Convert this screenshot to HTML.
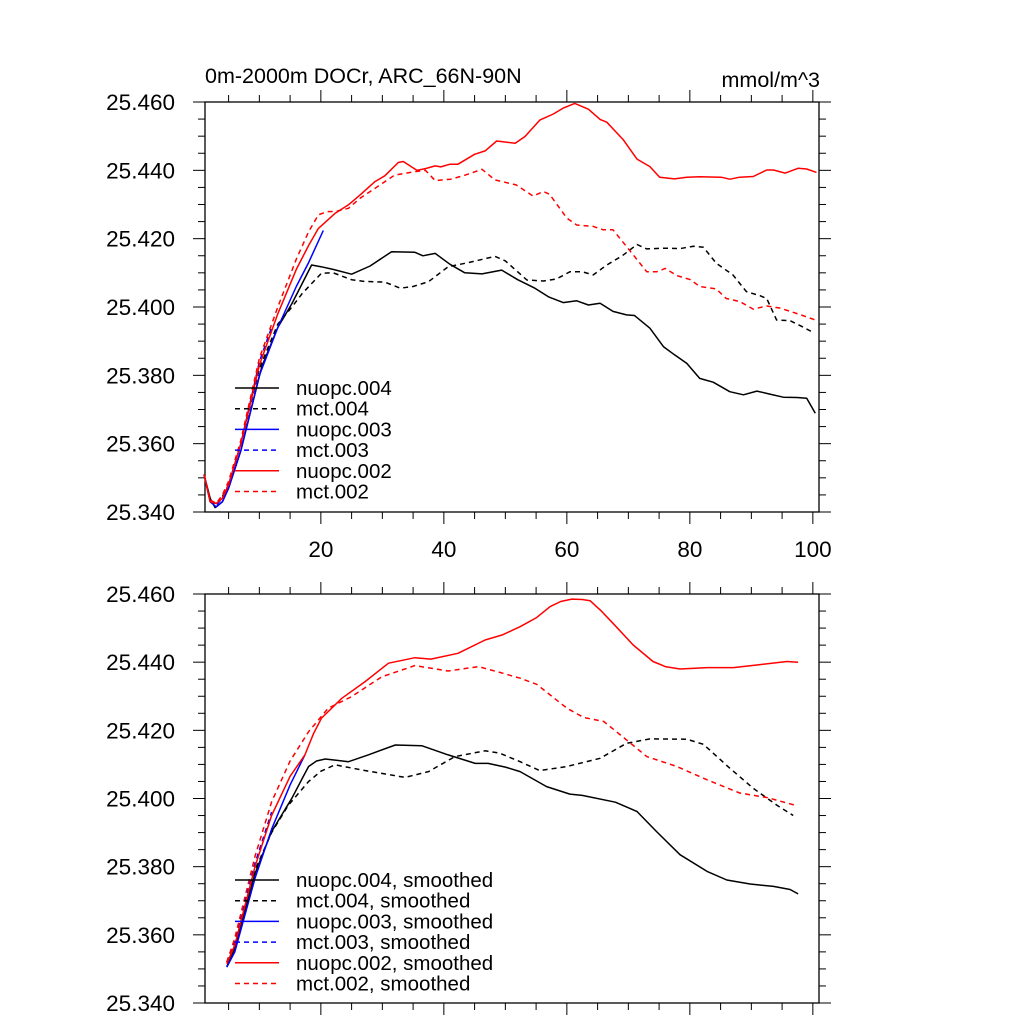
<!DOCTYPE html>
<html><head><meta charset="utf-8"><style>
html,body{margin:0;padding:0;background:#fff;}
svg{display:block;font-family:"Liberation Sans",Arial,sans-serif;}
</style></head><body>
<svg id="chart" width="1024" height="1024" viewBox="0 0 1024 1024" xmlns="http://www.w3.org/2000/svg">
<text x="205" y="83" font-size="21.5">0m-2000m DOCr, ARC_66N-90N</text>
<text x="820" y="87" font-size="21.5" text-anchor="end">mmol/m^3</text>
</svg>
<script>
const yTicks=[25.34,25.36,25.38,25.40,25.42,25.44,25.46];
const xTicks=[20,40,60,80,100];
const legendTop=["nuopc.004","mct.004","nuopc.003","mct.003","nuopc.002","mct.002"];
const legendBot=["nuopc.004, smoothed","mct.004, smoothed","nuopc.003, smoothed","mct.003, smoothed","nuopc.002, smoothed","mct.002, smoothed"];
// top panel raw
const n004x=[1,2,2.8,4,5,7,10.4,13,15.3,17,18.5,20,22,25,28,31.5,35.3,36.6,38.6,41,43.4,46.2,49.4,52,54.8,57,59.4,61.6,63.5,65.4,67.5,69.7,71,73.5,75.7,77.5,79.5,81.6,83.8,86.5,88.7,90.9,93,95.2,97.4,99,100.4];
const n004y=[25.351,25.344,25.3413,25.343,25.347,25.358,25.3826,25.394,25.401,25.407,25.4123,25.4118,25.411,25.4096,25.412,25.4162,25.416,25.415,25.4157,25.4125,25.410,25.4097,25.4108,25.408,25.4055,25.403,25.4013,25.4018,25.4006,25.4011,25.3987,25.3977,25.3975,25.3938,25.3884,25.386,25.3835,25.3791,25.378,25.3752,25.3743,25.3754,25.3745,25.3736,25.3735,25.3733,25.3689];
const m004x=[1,2,3,4,5,7,10,13,15.3,17,20.1,22,25,27,30.4,32.9,35,37.5,40.7,44,48.3,50,53.5,56.2,58.3,60.5,62.5,64.3,66.5,69,71.4,73,75.7,78.4,80.6,82.2,84.3,87,89.2,91.4,92.5,94.1,96.3,98,100.1];
const m004y=[25.351,25.3435,25.342,25.3445,25.348,25.360,25.382,25.395,25.400,25.404,25.4099,25.410,25.408,25.4075,25.4073,25.4055,25.406,25.4074,25.4118,25.413,25.4148,25.4135,25.4079,25.4076,25.4082,25.4103,25.4103,25.4094,25.4123,25.415,25.4183,25.417,25.4172,25.4171,25.4178,25.4175,25.4128,25.4094,25.4045,25.4033,25.4025,25.3962,25.396,25.3945,25.3925];
const n003x=[1,2,3,4,5,7,10,13,16,18,20.4];
const n003y=[25.351,25.343,25.3415,25.343,25.347,25.358,25.380,25.394,25.406,25.413,25.4224];
const m003x=[1,2,3,4,5,7,10,12];
const m003y=[25.351,25.343,25.342,25.344,25.348,25.360,25.384,25.394];
const n002x=[1,2,3,4,5,7,10,13,16,18,19.6,22.3,24.5,26.5,28.8,30.4,32.6,33.4,35.6,37,38.6,39.5,41,42.3,45,46.7,48.6,51.6,53.2,55.6,57.8,59.4,61.3,63.5,65.4,66.5,69.2,71.4,73.5,75.1,77.5,79.5,81.6,85.1,86.5,88.1,90.3,92.5,93.6,95.5,97.6,99,100.6];
const n002y=[25.351,25.343,25.3425,25.344,25.348,25.360,25.383,25.398,25.411,25.418,25.423,25.4274,25.4299,25.433,25.4367,25.4384,25.4423,25.4426,25.440,25.4405,25.4413,25.441,25.4418,25.4418,25.4447,25.4457,25.4486,25.4479,25.4499,25.4547,25.4565,25.4582,25.4596,25.4579,25.4549,25.4541,25.4489,25.4433,25.4411,25.438,25.4375,25.438,25.4381,25.438,25.4374,25.438,25.4382,25.4401,25.4401,25.4392,25.4406,25.4404,25.4394];
const m002x=[1,2,3,4,5,7,10,13,16,18,19.6,21,22.5,24.5,26.5,28.8,32,35.3,37,38.6,41.1,43.3,46.2,48.3,51.8,54.5,56.2,57.2,60,61.6,64.3,65.9,67.5,69.7,73,74.6,76,77.9,80.1,81.6,84.3,85.9,88.1,90.3,92.5,94.6,97.9,100.4];
const m002y=[25.351,25.3435,25.3425,25.345,25.349,25.361,25.385,25.400,25.414,25.422,25.427,25.4279,25.428,25.4289,25.432,25.4347,25.4386,25.4396,25.440,25.437,25.4374,25.4385,25.4403,25.4372,25.4357,25.4325,25.4338,25.433,25.426,25.424,25.4236,25.4226,25.4226,25.4177,25.4103,25.4103,25.4113,25.4092,25.408,25.406,25.4053,25.4025,25.4016,25.3994,25.4003,25.3997,25.3978,25.3962];
// bottom panel smoothed
const sn004x=[4.7,6,9.3,12,15.3,17,18,19.3,20.7,22.5,24.5,27.7,32.1,36.4,40.7,45.1,47.2,50,52.4,56.7,60.5,62.5,67.9,71.4,74.6,78.4,82.8,86,89.8,93.6,96.3,97.6];
const sn004y=[25.3507,25.356,25.378,25.3903,25.4001,25.406,25.4094,25.411,25.4116,25.4112,25.4108,25.4128,25.4157,25.4155,25.4128,25.4103,25.4103,25.4092,25.4079,25.4035,25.4013,25.4009,25.3989,25.3962,25.3903,25.3835,25.3786,25.3761,25.3749,25.3742,25.3733,25.372];
const sm004x=[4.7,6,9.3,12,14.7,18,20,22.3,26.6,33.7,37.5,41.8,46.7,49.1,52.4,55.6,60,65.4,69.7,73.5,79.5,82.2,86.5,90.3,94.1,96.8];
const sm004y=[25.352,25.358,25.379,25.390,25.398,25.405,25.408,25.4099,25.4084,25.4062,25.4079,25.4123,25.414,25.4133,25.4108,25.4082,25.4094,25.4118,25.4162,25.4175,25.4174,25.4159,25.4089,25.403,25.3981,25.395];
const sn003x=[4.7,6,9.3,12,15,17.4];
const sn003y=[25.3505,25.355,25.3766,25.391,25.404,25.4128];
const sm003x=[4.7,6,9.3,12];
const sm003y=[25.352,25.358,25.381,25.396];
const sn002x=[4.7,6,9.3,12,15,17.4,18.8,20.1,23.4,27.2,31,35.3,37.9,42.3,46.7,49.5,52.4,55,57.3,59,60.8,62.5,63.8,65.5,67.5,70.8,74,76,78.4,82.8,87.1,91.4,95.8,97.6];
const sn002y=[25.3515,25.357,25.380,25.395,25.4065,25.4128,25.419,25.4236,25.4294,25.4343,25.4397,25.4413,25.4409,25.4426,25.4465,25.448,25.4504,25.453,25.4563,25.4578,25.4585,25.4584,25.458,25.4552,25.4514,25.445,25.4402,25.4387,25.438,25.4384,25.4384,25.4393,25.4402,25.440];
const sm002x=[4.7,6,9.3,12,15,18,21.2,25,29.9,35.3,40.7,45.6,49.1,52.4,55.1,60,62.7,66,69.7,73,77.9,82.8,88.1,92.5,97.4];
const sm002y=[25.352,25.359,25.383,25.399,25.411,25.4196,25.4265,25.4299,25.4357,25.439,25.4374,25.4387,25.437,25.4353,25.4335,25.4265,25.4238,25.4226,25.4172,25.4123,25.4094,25.4055,25.4016,25.4003,25.3979];

const NS="http://www.w3.org/2000/svg";
const svg=document.getElementById('chart');
const X0=205,X1=819;
function xs(v){return 204+(v-1)*6.15;}
function mk(tag,attrs){const e=document.createElementNS(NS,tag);for(const k in attrs)e.setAttribute(k,attrs[k]);svg.appendChild(e);return e;}
function panel(top,bot,showX,series,legend,legY){
  const ys=v=>top+(25.46-v)/0.12*(bot-top);
  const fr=mk('rect',{x:X0,y:top,width:X1-X0,height:bot-top,fill:'none',stroke:'#000','stroke-width':1.3});
  
  
  for(let v=25.34;v<=25.4601;v+=0.005){
    const y=ys(v);const major=Math.abs(Math.round(v*1000)%20)<0.5;const L=major?12:7;
    const t1=mk('line',{x1:X0-L,x2:X0,y1:y,y2:y,stroke:'#000','stroke-width':1});
    
    
    const t2=mk('line',{x1:X1,x2:X1+L,y1:y,y2:y,stroke:'#000','stroke-width':1});
    
    
  }
  yTicks.forEach(v=>{
    const t=mk('text',{x:175,y:ys(v)+8,'font-size':22.5,'text-anchor':'end'});t.textContent=v.toFixed(3);
    
    
  });
  for(let v=5;v<=100;v+=5){
    const x=xs(v);const major=v%20===0;const L=major?12:7;
    const a=mk('line',{x1:x,x2:x,y1:bot,y2:bot+L,stroke:'#000','stroke-width':1});
    
    
    const b=mk('line',{x1:x,x2:x,y1:top-L,y2:top,stroke:'#000','stroke-width':1});
    
    
  }
  if(showX)xTicks.forEach(v=>{
    const t=mk('text',{x:xs(v),y:bot+45,'font-size':22.5,'text-anchor':'middle'});t.textContent=v;
    
    
  });
  series.forEach(s=>{
    const d=s.x.map((v,i)=>(i?'L':'M')+xs(v).toFixed(1)+' '+ys(s.y[i]).toFixed(1)).join(' ');
    const p=mk('path',{d:d,fill:'none',stroke:s.c,'stroke-width':1.5,'stroke-dasharray':s.dash?'5 4':'none','stroke-linejoin':'round'});
    
    
  });
  legend.forEach((lab,i)=>{
    const y=legY+i*20.7;const s=series[i];
    const l=mk('line',{x1:235,x2:279,y1:y,y2:y,stroke:s.c,'stroke-width':1.5,'stroke-dasharray':s.dash?'5 4':'none'});
    
    
    const t=mk('text',{x:296,y:y+7,'font-size':20.5});t.textContent=lab;
    
    
  });
}
panel(102,512,true,[
 {x:n004x,y:n004y,c:'#000',dash:false,name:'line-nuopc-004'},
 {x:m004x,y:m004y,c:'#000',dash:true,name:'line-mct-004'},
 {x:n003x,y:n003y,c:'#0000ff',dash:false,name:'line-nuopc-003'},
 {x:m003x,y:m003y,c:'#0000ff',dash:true,name:'line-mct-003'},
 {x:n002x,y:n002y,c:'#ff0000',dash:false,name:'line-nuopc-002'},
 {x:m002x,y:m002y,c:'#ff0000',dash:true,name:'line-mct-002'}
],legendTop,388);
panel(594,1003,false,[
 {x:sn004x,y:sn004y,c:'#000',dash:false,name:'line-nuopc-004-smoothed'},
 {x:sm004x,y:sm004y,c:'#000',dash:true,name:'line-mct-004-smoothed'},
 {x:sn003x,y:sn003y,c:'#0000ff',dash:false,name:'line-nuopc-003-smoothed'},
 {x:sm003x,y:sm003y,c:'#0000ff',dash:true,name:'line-mct-003-smoothed'},
 {x:sn002x,y:sn002y,c:'#ff0000',dash:false,name:'line-nuopc-002-smoothed'},
 {x:sm002x,y:sm002y,c:'#ff0000',dash:true,name:'line-mct-002-smoothed'}
],legendBot,880);
</script>
</body></html>
